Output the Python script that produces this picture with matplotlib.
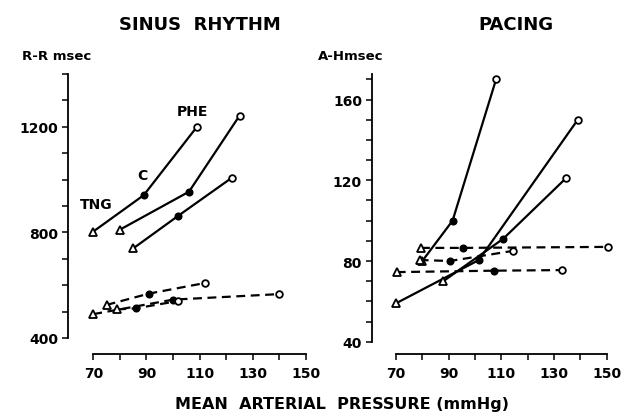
import matplotlib.pyplot as plt
from matplotlib.ticker import MultipleLocator

# point order in every series: TNG (triangle), C (filled dot), PHE (open circle)
point_kinds = ["TNG", "C", "PHE"]

# sinus rhythm: R-R interval (msec) vs mean arterial pressure (mmHg)
sr_solid_x = [[70, 89, 109], [80, 106, 125], [85, 102, 122]]
sr_solid_y = [[803, 941, 1200], [810, 954, 1242], [739, 863, 1006]]
sr_dash_x = [[75, 91, 112], [70, 100, 140], [79, 86, 102]]
sr_dash_y = [[525, 568, 608], [490, 545, 566], [508, 512, 540]]

# pacing: A-H interval (msec) vs mean arterial pressure (mmHg)
pc_solid_x = [[80, 91.5, 108], [70, 101.5, 139], [88, 110.7, 134.5]]
pc_solid_y = [[80, 100, 170], [59, 80.5, 150], [70, 91, 121]]
pc_dash_x = [[79.5, 95.5, 150.6], [79, 90.5, 114.3], [70.3, 107.2, 132.9]]
pc_dash_y = [[86.5, 86.5, 87], [80.5, 80, 85], [74.5, 75.2, 75.5]]

x_ticks = [70, 90, 110, 130, 150]
sr_yticks = [400, 800, 1200]
pc_yticks = [40, 80, 120, 160]

marker_style = {
    "TNG": dict(marker="^", mfc="white", ms=6),
    "C": dict(marker="o", mfc="black", ms=4.5),
    "PHE": dict(marker="o", mfc="white", ms=4.8),
}

plt.rcParams["font.family"] = "DejaVu Sans"
plt.rcParams["font.weight"] = "bold"

fig = plt.figure(figsize=(6.34, 4.14), dpi=100)
ax1 = fig.add_axes([68 / 634, 59 / 414, 238 / 634, 280 / 414])
ax2 = fig.add_axes([371.7 / 634, 59 / 414, 235 / 634, 280 / 414])


def draw_series(ax, xs, ys, ls):
    for x, y in zip(xs, ys):
        ax.plot(x, y, color="black", lw=1.6, ls=ls, dashes=(4, 2.5) if ls == "--" else (None, None),
                zorder=2, clip_on=False)
        for xi, yi, kind in zip(x, y, point_kinds):
            ax.plot(xi, yi, ls="none", mec="black", mew=1.3, zorder=3, clip_on=False,
                    **marker_style[kind])


def style_axis(ax, yticks, yminor, ybounds):
    for s in ["top", "right"]:
        ax.spines[s].set_visible(False)
    ax.spines["left"].set_bounds(*ybounds)
    ax.spines["bottom"].set_bounds(70, 150)
    for s in ["left", "bottom"]:
        ax.spines[s].set_linewidth(1.3)
    ax.set_xticks(x_ticks)
    ax.xaxis.set_minor_locator(MultipleLocator(10))
    ax.set_yticks(yticks)
    ax.yaxis.set_minor_locator(MultipleLocator(yminor))
    ax.tick_params(which="both", direction="out", length=4, width=1.1, labelsize=10)
    ax.tick_params(axis="y", pad=3)
    ax.tick_params(axis="x", pad=5)
    for lab in ax.get_xticklabels() + ax.get_yticklabels():
        lab.set_fontweight("bold")


draw_series(ax1, sr_solid_x, sr_solid_y, "-")
draw_series(ax1, sr_dash_x, sr_dash_y, "--")
ax1.set_xlim(60.5, 150)
ax1.set_ylim(339, 1400)
style_axis(ax1, sr_yticks, 100, (400, 1400))

ax1.text(71.2, 907, "TNG", fontsize=10, fontweight="bold", ha="center", va="center")
ax1.text(88.5, 1017, "C", fontsize=10, fontweight="bold", ha="center", va="center")
ax1.text(107.3, 1261, "PHE", fontsize=10, fontweight="bold", ha="center", va="center")

draw_series(ax2, pc_solid_x, pc_solid_y, "-")
draw_series(ax2, pc_dash_x, pc_dash_y, "--")
ax2.set_xlim(60.8, 150)
ax2.set_ylim(33.9, 172.7)
style_axis(ax2, pc_yticks, 10, (40, 172.7))

fig.text(200 / 634, 1 - 25 / 414, "SINUS  RHYTHM", fontsize=13, fontweight="bold",
         ha="center", va="center")
fig.text(516 / 634, 1 - 25 / 414, "PACING", fontsize=13, fontweight="bold",
         ha="center", va="center")
fig.text(22 / 634, 1 - 57 / 414, "R-R msec", fontsize=9.5, fontweight="bold",
         ha="left", va="center")
fig.text(318 / 634, 1 - 57 / 414, "A-Hmsec", fontsize=9.5, fontweight="bold",
         ha="left", va="center")
fig.text(342 / 634, 1 - 405 / 414, "MEAN  ARTERIAL  PRESSURE (mmHg)", fontsize=11.5,
         fontweight="bold", ha="center", va="center")

fig.savefig("out.png", dpi=100)
